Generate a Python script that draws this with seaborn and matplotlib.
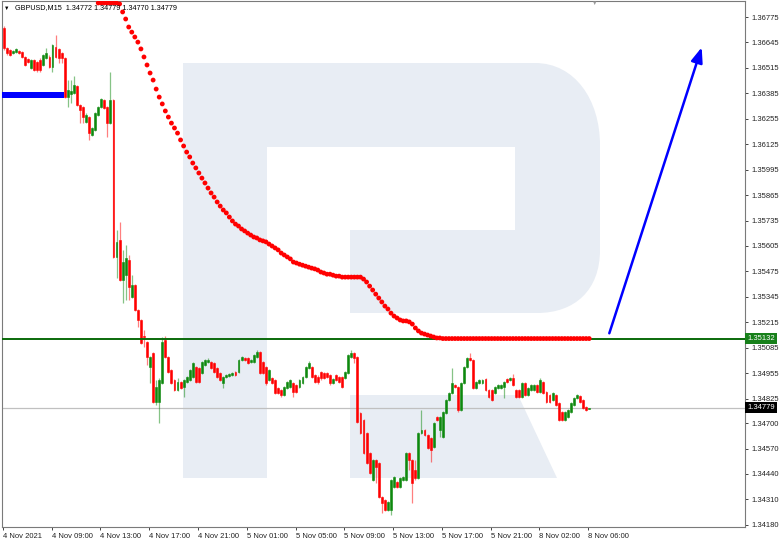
import numpy as np
import pandas as pd
import seaborn as sns
import matplotlib.pyplot as plt
from matplotlib.patches import Rectangle, Polygon, PathPatch
from matplotlib.path import Path
from matplotlib import transforms

sns.set_style('white')
plt.rcParams['font.family'] = ['Liberation Sans', 'DejaVu Sans']

# ---------------------------------------------------------------------------
# GBPUSD M15 candles, 4 Nov 2021 ~05:00 .. 8 Nov 2021 06:00 (values read off)
# ---------------------------------------------------------------------------
opens = [
    1.36719, 1.36617, 1.36606, 1.36591, 1.36596, 1.36601, 1.36596, 1.36571, 1.36561, 1.36515,
    1.36555, 1.36545, 1.36555, 1.36530, 1.36566, 1.36571, 1.36520, 1.36622, 1.36612, 1.36591,
    1.36566, 1.36366, 1.36382, 1.36387, 1.36423, 1.36325, 1.36315, 1.36239, 1.36264, 1.36172,
    1.36198, 1.36274, 1.36315, 1.36351, 1.36315, 1.36233, 1.36351, 1.35549, 1.35636, 1.35431,
    1.35457, 1.35533, 1.35344, 1.35406, 1.35278, 1.35227, 1.35145, 1.35114, 1.34987, 1.35058,
    1.34808, 1.34808, 1.34905, 1.35125, 1.35038, 1.34971, 1.34920, 1.34869, 1.34910, 1.34884,
    1.34910, 1.34920, 1.34936, 1.34987, 1.34982, 1.34956, 1.34997, 1.35012, 1.35012, 1.35007,
    1.34982, 1.34956, 1.34905, 1.34936, 1.34941, 1.34946, 1.34961, 1.34961, 1.35022, 1.35033,
    1.35033, 1.35012, 1.35012, 1.35038, 1.35063, 1.35012, 1.34987, 1.34920, 1.34930, 1.34920,
    1.34879, 1.34869, 1.34844, 1.34879, 1.34884, 1.34905, 1.34895, 1.34884, 1.34905, 1.34936,
    1.34982, 1.34987, 1.34946, 1.34936, 1.34961, 1.34956, 1.34956, 1.34946, 1.34905, 1.34946,
    1.34936, 1.34936, 1.34930, 1.34956, 1.35038, 1.35058, 1.35038, 1.34752, 1.34716, 1.34649,
    1.34547, 1.34409, 1.34511, 1.34496, 1.34322, 1.34307, 1.34256, 1.34256, 1.34373, 1.34399,
    1.34373, 1.34409, 1.34409, 1.34547, 1.34511, 1.34460, 1.34419, 1.34649, 1.34665, 1.34639,
    1.34624, 1.34578, 1.34731, 1.34665, 1.34629, 1.34752, 1.34818, 1.34854, 1.34895, 1.34884,
    1.34767, 1.34905, 1.34987, 1.35033, 1.35022, 1.34879, 1.34905, 1.34905, 1.34925, 1.34869,
    1.34869, 1.34854, 1.34879, 1.34879, 1.34884, 1.34925, 1.34920, 1.34930, 1.34869, 1.34869,
    1.34833, 1.34905, 1.34844, 1.34869, 1.34869, 1.34895, 1.34859, 1.34910, 1.34859, 1.34844,
    1.34818, 1.34844, 1.34803, 1.34757, 1.34716, 1.34731, 1.34757, 1.34792, 1.34828, 1.34838,
    1.34818, 1.34782, 1.34772,
]
highs = [
    1.36729, 1.36622, 1.36612, 1.36606, 1.36617, 1.36606, 1.36601, 1.36576, 1.36566, 1.36561,
    1.36561, 1.36550, 1.36566, 1.36586, 1.36617, 1.36581, 1.36637, 1.36683, 1.36617, 1.36596,
    1.36571, 1.36453, 1.36453, 1.36474, 1.36428, 1.36331, 1.36320, 1.36285, 1.36269, 1.36213,
    1.36290, 1.36320, 1.36361, 1.36356, 1.36320, 1.36494, 1.36356, 1.35687, 1.35728, 1.35584,
    1.35610, 1.35559, 1.35457, 1.35411, 1.35283, 1.35232, 1.35176, 1.35119, 1.35043, 1.35063,
    1.34920, 1.34930, 1.35140, 1.35145, 1.35043, 1.34976, 1.34925, 1.34930, 1.34915, 1.34925,
    1.34941, 1.34976, 1.35012, 1.34992, 1.34987, 1.35017, 1.35028, 1.35033, 1.35017, 1.35012,
    1.34987, 1.34961, 1.34941, 1.34951, 1.34956, 1.34961, 1.34966, 1.35028, 1.35043, 1.35038,
    1.35038, 1.35028, 1.35053, 1.35073, 1.35068, 1.35017, 1.34992, 1.34976, 1.34936, 1.34925,
    1.34884, 1.34874, 1.34890, 1.34915, 1.34925, 1.34910, 1.34900, 1.34925, 1.34941, 1.34992,
    1.35017, 1.34992, 1.34951, 1.34946, 1.34966, 1.34961, 1.34961, 1.34951, 1.34930, 1.34951,
    1.34941, 1.34941, 1.34966, 1.35053, 1.35073, 1.35063, 1.35043, 1.34757, 1.34721, 1.34654,
    1.34552, 1.34517, 1.34517, 1.34501, 1.34327, 1.34312, 1.34302, 1.34414, 1.34430, 1.34404,
    1.34425, 1.34430, 1.34552, 1.34552, 1.34517, 1.34511, 1.34654, 1.34767, 1.34670, 1.34644,
    1.34629, 1.34706, 1.34736, 1.34736, 1.34762, 1.34823, 1.34859, 1.34982, 1.34900, 1.34890,
    1.34910, 1.34992, 1.35038, 1.35058, 1.35028, 1.34915, 1.34925, 1.34925, 1.34930, 1.34874,
    1.34874, 1.34890, 1.34900, 1.34900, 1.34915, 1.34930, 1.34936, 1.34951, 1.34874, 1.34874,
    1.34910, 1.34910, 1.34884, 1.34900, 1.34900, 1.34900, 1.34930, 1.34915, 1.34864, 1.34849,
    1.34859, 1.34849, 1.34808, 1.34762, 1.34762, 1.34772, 1.34808, 1.34833, 1.34849, 1.34844,
    1.34823, 1.34787, 1.34779,
]
lows = [
    1.36606, 1.36581, 1.36576, 1.36586, 1.36591, 1.36586, 1.36566, 1.36525, 1.36540, 1.36509,
    1.36499, 1.36494, 1.36494, 1.36525, 1.36561, 1.36515, 1.36494, 1.36566, 1.36540, 1.36540,
    1.36361, 1.36315, 1.36336, 1.36382, 1.36320, 1.36233, 1.36233, 1.36233, 1.36147, 1.36167,
    1.36193, 1.36269, 1.36310, 1.36305, 1.36162, 1.36228, 1.35544, 1.35441, 1.35426, 1.35314,
    1.35329, 1.35329, 1.35339, 1.35273, 1.35191, 1.35104, 1.35089, 1.34997, 1.34905, 1.34803,
    1.34792, 1.34700, 1.34900, 1.35033, 1.34956, 1.34900, 1.34864, 1.34864, 1.34874, 1.34833,
    1.34905, 1.34915, 1.34930, 1.34905, 1.34905, 1.34951, 1.34992, 1.35007, 1.34976, 1.34956,
    1.34930, 1.34915, 1.34879, 1.34930, 1.34936, 1.34941, 1.34941, 1.34956, 1.35017, 1.35017,
    1.35002, 1.35007, 1.35007, 1.35033, 1.34951, 1.34951, 1.34895, 1.34915, 1.34900, 1.34849,
    1.34849, 1.34833, 1.34838, 1.34874, 1.34879, 1.34833, 1.34854, 1.34879, 1.34900, 1.34930,
    1.34976, 1.34930, 1.34905, 1.34900, 1.34920, 1.34925, 1.34930, 1.34895, 1.34900, 1.34915,
    1.34905, 1.34879, 1.34925, 1.34951, 1.35033, 1.35007, 1.34700, 1.34644, 1.34542, 1.34491,
    1.34440, 1.34404, 1.34394, 1.34317, 1.34241, 1.34251, 1.34251, 1.34230, 1.34368, 1.34368,
    1.34368, 1.34404, 1.34404, 1.34460, 1.34292, 1.34409, 1.34414, 1.34644, 1.34634, 1.34568,
    1.34501, 1.34573, 1.34711, 1.34629, 1.34624, 1.34746, 1.34813, 1.34849, 1.34879, 1.34757,
    1.34762, 1.34900, 1.34982, 1.35017, 1.34874, 1.34874, 1.34900, 1.34900, 1.34864, 1.34828,
    1.34813, 1.34849, 1.34874, 1.34874, 1.34828, 1.34905, 1.34915, 1.34890, 1.34828, 1.34828,
    1.34828, 1.34838, 1.34838, 1.34864, 1.34864, 1.34854, 1.34854, 1.34849, 1.34803, 1.34803,
    1.34813, 1.34787, 1.34711, 1.34711, 1.34711, 1.34726, 1.34752, 1.34787, 1.34823, 1.34803,
    1.34772, 1.34762, 1.34770,
]
closes = [
    1.36617, 1.36591, 1.36581, 1.36601, 1.36612, 1.36591, 1.36571, 1.36530, 1.36545, 1.36555,
    1.36504, 1.36504, 1.36504, 1.36581, 1.36591, 1.36520, 1.36632, 1.36571, 1.36566, 1.36566,
    1.36366, 1.36402, 1.36397, 1.36428, 1.36325, 1.36300, 1.36264, 1.36274, 1.36182, 1.36208,
    1.36285, 1.36315, 1.36356, 1.36310, 1.36233, 1.36351, 1.35549, 1.35625, 1.35431, 1.35523,
    1.35544, 1.35395, 1.35406, 1.35278, 1.35227, 1.35109, 1.35140, 1.35038, 1.35038, 1.34808,
    1.34884, 1.34920, 1.35114, 1.35038, 1.34961, 1.34905, 1.34869, 1.34910, 1.34879, 1.34920,
    1.34936, 1.34971, 1.35007, 1.34910, 1.34910, 1.35012, 1.35022, 1.35022, 1.34982, 1.34961,
    1.34936, 1.34920, 1.34936, 1.34946, 1.34951, 1.34956, 1.34946, 1.35022, 1.35038, 1.35022,
    1.35007, 1.35022, 1.35048, 1.35063, 1.34956, 1.34956, 1.34905, 1.34971, 1.34905, 1.34854,
    1.34854, 1.34844, 1.34884, 1.34910, 1.34920, 1.34859, 1.34859, 1.34920, 1.34936, 1.34987,
    1.35007, 1.34936, 1.34910, 1.34910, 1.34930, 1.34930, 1.34936, 1.34905, 1.34925, 1.34920,
    1.34910, 1.34884, 1.34961, 1.35048, 1.35058, 1.35033, 1.34706, 1.34649, 1.34547, 1.34496,
    1.34445, 1.34511, 1.34476, 1.34322, 1.34292, 1.34256, 1.34297, 1.34409, 1.34425, 1.34373,
    1.34419, 1.34425, 1.34547, 1.34511, 1.34394, 1.34419, 1.34649, 1.34665, 1.34639, 1.34573,
    1.34562, 1.34700, 1.34716, 1.34731, 1.34757, 1.34818, 1.34854, 1.34905, 1.34884, 1.34767,
    1.34905, 1.34987, 1.35033, 1.35022, 1.34879, 1.34910, 1.34920, 1.34920, 1.34869, 1.34833,
    1.34818, 1.34884, 1.34895, 1.34895, 1.34910, 1.34910, 1.34930, 1.34895, 1.34833, 1.34833,
    1.34905, 1.34844, 1.34879, 1.34895, 1.34895, 1.34859, 1.34920, 1.34854, 1.34808, 1.34808,
    1.34854, 1.34792, 1.34716, 1.34716, 1.34757, 1.34767, 1.34803, 1.34828, 1.34844, 1.34808,
    1.34777, 1.34767, 1.34779,
]

# red dotted trailing indicator, first visible value at bar 31
red_start = 31
red_vals = [
    1.36847, 1.36847, 1.36847, 1.36847, 1.36847, 1.36847, 1.36847, 1.36842,
    1.36801, 1.36765, 1.36724, 1.36698, 1.36673, 1.36647, 1.36612, 1.36571, 1.36530, 1.36489,
    1.36453, 1.36407, 1.36366, 1.36331, 1.36295, 1.36264, 1.36233, 1.36208, 1.36182, 1.36147,
    1.36116, 1.36085, 1.36060, 1.36029, 1.36004, 1.35978, 1.35952, 1.35927, 1.35901, 1.35876,
    1.35855, 1.35830, 1.35809, 1.35789, 1.35774, 1.35753, 1.35733, 1.35717, 1.35707, 1.35692,
    1.35682, 1.35671, 1.35661, 1.35651, 1.35646, 1.35636, 1.35631, 1.35626, 1.35615, 1.35605,
    1.35595, 1.35585, 1.35569, 1.35559, 1.35549, 1.35539, 1.35523, 1.35518, 1.35512, 1.35507,
    1.35502, 1.35497, 1.35492, 1.35488, 1.35482, 1.35472, 1.35467, 1.35461, 1.35461, 1.35456,
    1.35451, 1.35451, 1.35446, 1.35446, 1.35446, 1.35446, 1.35446, 1.35446, 1.35446, 1.35436,
    1.35421, 1.35400, 1.35380, 1.35359, 1.35339, 1.35319, 1.35298, 1.35283, 1.35262, 1.35247,
    1.35237, 1.35227, 1.35222, 1.35222, 1.35217, 1.35206, 1.35186, 1.35171, 1.35160, 1.35155,
    1.35150, 1.35145, 1.35140, 1.35135, 1.35135,
    1.35132, 1.35132, 1.35132, 1.35132, 1.35132, 1.35132, 1.35132, 1.35132, 1.35132, 1.35132,
    1.35132, 1.35132, 1.35132, 1.35132, 1.35132, 1.35132, 1.35132, 1.35132, 1.35132, 1.35132,
    1.35132, 1.35132, 1.35132, 1.35132, 1.35132, 1.35132, 1.35132, 1.35132, 1.35132, 1.35132,
    1.35132, 1.35132, 1.35132, 1.35132, 1.35132, 1.35132, 1.35132, 1.35132, 1.35132, 1.35132,
    1.35132, 1.35132, 1.35132, 1.35132, 1.35132, 1.35132, 1.35132, 1.35132, 1.35132,
]

# blue dotted level on the first bars
blue_vals = [1.36376, 1.36376, 1.36376, 1.36376, 1.36376, 1.36376, 1.36376, 1.36376, 1.36376, 1.36376,
             1.36376, 1.36376, 1.36376, 1.36376, 1.36376, 1.36376, 1.36376, 1.36376, 1.36376, 1.36376]

support_level = 1.35132
last_price = 1.34779
arrow_from = (198.6, 1.35159)
arrow_to = (228.9, 1.36620)

price_ticks = [1.36775, 1.36645, 1.36515, 1.36385, 1.36255, 1.36125, 1.35995, 1.35865, 1.35735,
               1.35605, 1.35475, 1.35345, 1.35215, 1.35085, 1.34955, 1.34825, 1.34700, 1.34570,
               1.34440, 1.34310, 1.34180]
time_labels = ['4 Nov 2021', '4 Nov 09:00', '4 Nov 13:00', '4 Nov 17:00', '4 Nov 21:00',
               '5 Nov 01:00', '5 Nov 05:00', '5 Nov 09:00', '5 Nov 13:00', '5 Nov 17:00',
               '5 Nov 21:00', '8 Nov 02:00', '8 Nov 06:00']
time_label_bars = [-0.3, 15.7, 31.7, 47.7, 63.7, 79.7, 95.7, 111.7, 127.7, 143.7, 159.7, 175.7, 191.7]

df = pd.DataFrame({'open': opens, 'high': highs, 'low': lows, 'close': closes})
df['bar'] = np.arange(len(df))
up = df['close'] >= df['open']

GREEN = '#0e890e'
RED = '#ff0000'

fig = plt.figure(figsize=(7.82, 5.44), dpi=100)
fig.patch.set_facecolor('white')
ax = fig.add_axes([2 / 782, 17 / 544, 743 / 782, 526 / 544])
ax.set_facecolor('white')

# --- watermark logo, drawn in screen pixel units (y pointing down) ---
pix = transforms.Affine2D().scale(1 / 782, -1 / 544).translate(0, 1) + fig.transFigure
LOGO = '#e8edf4'
bowl = Path(
    [(183, 63), (535, 63), (575, 63), (600, 100), (600, 145), (600, 250),
     (600, 290), (575, 313), (537, 313), (183, 313), (183, 63)],
    [Path.MOVETO, Path.LINETO, Path.CURVE4, Path.CURVE4, Path.CURVE4, Path.LINETO,
     Path.CURVE4, Path.CURVE4, Path.CURVE4, Path.LINETO, Path.CLOSEPOLY])
ax.add_patch(PathPatch(bowl, fc=LOGO, ec='none', transform=pix, zorder=0.2))
ax.add_patch(Rectangle((267, 147), 248, 83, fc='white', ec='none', transform=pix, zorder=0.3))
ax.add_patch(Rectangle((267, 229), 83, 85, fc='white', ec='none', transform=pix, zorder=0.3))
ax.add_patch(Rectangle((183, 63), 84, 415, fc=LOGO, ec='none', transform=pix, zorder=0.4))
ax.add_patch(Polygon([(350, 395), (518, 395), (557, 478), (350, 478)], closed=True,
                     fc=LOGO, ec='none', transform=pix, zorder=0.4))

# --- price lines ---
ax.axhline(last_price, color='#c0c0c0', lw=0.9, zorder=1)
ax.axhline(support_level, color='#0a6a0a', lw=1.4, zorder=3.5)

# --- candles ---
wick_cols = np.where(up, GREEN, RED)
ax.vlines(df['bar'], df['low'], df['high'], colors=wick_cols, lw=0.9, alpha=0.5, zorder=2)
body_low = df[['open', 'close']].min(axis=1)
body_h = (df['close'] - df['open']).abs()
ax.bar(df['bar'], body_h, bottom=body_low, width=0.62, color=wick_cols,
       edgecolor=wick_cols, linewidth=0.4, zorder=3)

# --- dotted indicators ---
red_df = pd.DataFrame({'bar': np.arange(red_start, red_start + len(red_vals)), 'val': red_vals})
sns.scatterplot(data=red_df, x='bar', y='val', color=RED, s=12, edgecolor='none',
                legend=False, ax=ax, zorder=4)
blue_df = pd.DataFrame({'bar': np.arange(len(blue_vals)), 'val': blue_vals})
sns.scatterplot(data=blue_df, x='bar', y='val', color='#0000ff', s=16, marker='s',
                edgecolor='none', legend=False, ax=ax, zorder=4)

# --- forecast arrow ---
ax.annotate('', xy=arrow_to, xytext=arrow_from,
            arrowprops=dict(arrowstyle='-|>,head_length=0.9,head_width=0.35', color='#0000ff',
                            lw=1.8, shrinkA=0, shrinkB=0, mutation_scale=10), zorder=5)

# --- axes ---
ax.set_xlim(-0.56, 243.1)
ax.set_ylim(1.34169, 1.36857)
ax.set_xlabel('')
ax.set_ylabel('')
ax.yaxis.tick_right()
ax.set_yticks(price_ticks)
ax.set_yticklabels([f'{v:.5f}' for v in price_ticks])
ax.set_xticks(time_label_bars)
ax.set_xticklabels(time_labels)
for lbl in ax.get_xticklabels():
    lbl.set_horizontalalignment('left')
ax.tick_params(axis='y', which='both', direction='out', length=2.5, width=0.7, color='#444444',
               labelsize=5.5, labelcolor='#222222', pad=2.5, left=False, right=True)
ax.tick_params(axis='x', which='both', direction='out', length=2.5, width=0.7, color='#444444',
               labelsize=5.5, labelcolor='#222222', pad=1.5, bottom=True)
for side, sp in ax.spines.items():
    sp.set_visible(True)
    sp.set_color('#7a7a7a')
    sp.set_linewidth(0.8)

# --- price tags on the right scale ---
ytr = ax.get_yaxis_transform()
ax.text(1.003, support_level, f'{support_level:.5f}', transform=ytr, ha='left', va='center',
        fontsize=5.5, color='white', clip_on=False, zorder=6,
        bbox=dict(boxstyle='square,pad=0.25', fc='#17801a', ec='none'))
ax.text(1.003, last_price, f'{last_price:.5f}', transform=ytr, ha='left', va='center',
        fontsize=5.5, color='white', clip_on=False, zorder=6,
        bbox=dict(boxstyle='square,pad=0.25', fc='black', ec='none'))

# --- header ---
fig.text(4 / 782, 1 - 8 / 544, '\u25bc', fontsize=4, color='black', va='center', ha='left')
fig.text(15 / 782, 1 - 8 / 544, 'GBPUSD,M15  1.34772 1.34779 1.34770 1.34779', fontsize=5.2,
         color='black', va='center', ha='left')
fig.text(595 / 782, 1 - 3 / 544, '\u25bc', fontsize=4, color='#9a9a9a', va='center', ha='center')

fig.savefig('out.png', dpi=100, facecolor='white')
